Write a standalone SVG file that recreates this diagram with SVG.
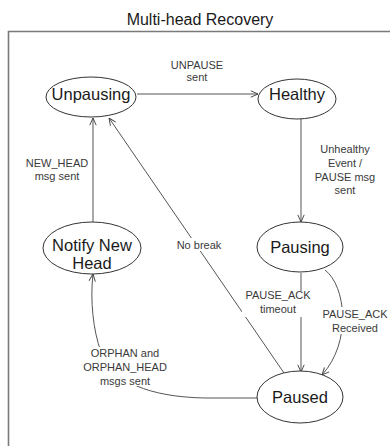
<svg xmlns="http://www.w3.org/2000/svg" width="390" height="446" viewBox="0 0 390 446">
  <style>
    .frame { fill: none; stroke: #7a7a7a; stroke-width: 1.6; }
    .state ellipse { fill: #fff; stroke: #333; stroke-width: 1; }
    .state text { font-family: "Liberation Sans", Arial, sans-serif; font-size: 16.5px; fill: #1a1a1a; text-anchor: middle; }
    .edge { fill: none; stroke: #555; stroke-width: 1; marker-end: url(#arrow); }
    .lbl { font-family: "Liberation Sans", Arial, sans-serif; font-size: 11px; fill: #3a3a3a; text-anchor: middle; }
    .mask { fill: #fff; }
    .title { font-family: "Liberation Sans", Arial, sans-serif; font-size: 16px; fill: #1a1a1a; text-anchor: middle; }
  </style>
  <defs>
    <marker id="arrow" viewBox="0 0 10 10" refX="10" refY="5" markerWidth="8" markerHeight="8" markerUnits="userSpaceOnUse" orient="auto">
      <path d="M1 1 L10 5 L1 9" fill="none" stroke="#444" stroke-width="1.2"/>
    </marker>
  </defs>

  <rect width="390" height="446" fill="#fff"/>
  <text class="title" x="200" y="25">Multi-head Recovery</text>
  <path class="frame" d="M8.5 446 V31.5 H390"/>

  <g id="connectors">
    <path class="edge" d="M137 94 H258"/>
    <path class="edge" d="M301 119 V222"/>
    <path class="edge" d="M301 273 V372"/>
    <path class="edge" d="M325 270 C346 286 352 342 322 375"/>
    <path class="edge" d="M284 373 L109 118"/>
    <path class="edge" d="M93 222 V118"/>
    <path class="edge" d="M258 398 H205 C150 397 112 382 101 352 C93 330 90 300 93 274"/>

    <!-- edge labels, with white backing where they sit on a line -->
    <text class="lbl" x="197" y="69">UNPAUSE</text>
    <text class="lbl" x="197" y="81">sent</text>

    <text class="lbl" x="345" y="153">Unhealthy</text>
    <text class="lbl" x="345" y="167">Event /</text>
    <text class="lbl" x="345" y="181">PAUSE msg</text>
    <text class="lbl" x="345" y="194">sent</text>

    <text class="lbl" x="57" y="167">NEW_HEAD</text>
    <text class="lbl" x="57" y="180">msg sent</text>

    <rect class="mask" x="176" y="238" width="46" height="13"/>
    <text class="lbl" x="199" y="249">No break</text>

    <rect class="mask" x="242" y="291" width="72" height="26"/>
    <text class="lbl" x="278" y="299">PAUSE_ACK</text>
    <text class="lbl" x="278" y="313">timeout</text>

    <rect class="mask" x="320" y="307" width="70" height="27"/>
    <text class="lbl" x="355" y="318">PAUSE_ACK</text>
    <text class="lbl" x="355" y="332">Received</text>

    <rect class="mask" x="82" y="347" width="88" height="39"/>
    <text class="lbl" x="125" y="357">ORPHAN and</text>
    <text class="lbl" x="125" y="371">ORPHAN_HEAD</text>
    <text class="lbl" x="125" y="385">msgs sent</text>
  </g>

  <g id="unpausing" class="state">
    <ellipse cx="91" cy="97" rx="45" ry="20"/>
    <text x="91" y="100">Unpausing</text>
  </g>
  <g id="healthy" class="state">
    <ellipse cx="297" cy="99" rx="39" ry="20"/>
    <text x="297" y="100">Healthy</text>
  </g>
  <g id="pausing" class="state">
    <ellipse cx="300" cy="247" rx="43" ry="25"/>
    <text x="300" y="253">Pausing</text>
  </g>
  <g id="notify-new-head" class="state">
    <ellipse cx="92" cy="248" rx="49" ry="26"/>
    <text x="92" y="251">Notify New</text>
    <text x="92" y="269">Head</text>
  </g>
  <g id="paused" class="state">
    <ellipse cx="300" cy="397" rx="43" ry="26"/>
    <text x="300" y="403">Paused</text>
  </g>
</svg>
